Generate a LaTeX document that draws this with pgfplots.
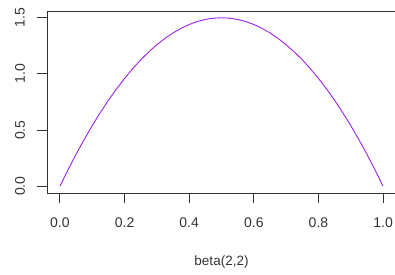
\documentclass[border=0pt]{standalone}
\usepackage{pgfplots}
\pgfplotsset{compat=1.18}
\usepackage{fontspec}
\setmainfont{Liberation Sans}
\definecolor{rpurple}{HTML}{A020F0}
\definecolor{axgray}{HTML}{333333}
\begin{document}
\begin{tikzpicture}[x=1pt,y=1pt]
\useasboundingbox (0,0) rectangle (395,274);
\begin{axis}[
  at={(47pt,81pt)}, anchor=south west,
  scale only axis, width=349pt, height=182pt,
  xmin=-0.04, xmax=1.04, ymin=-0.06, ymax=1.56,
  axis line style={axgray, line width=0.9pt},
  tick style={axgray, line width=0.9pt},
  tick align=outside, major tick length=10pt,
  xtick={0,0.2,0.4,0.6,0.8,1.0},
  ytick={0,0.5,1.0,1.5},
  xticklabels={0.0,0.2,0.4,0.6,0.8,1.0},
  yticklabels={0.0,0.5,1.0,1.5},
  xtick pos=bottom, ytick pos=left,
  ticklabel style={font=\fontsize{14}{14}\selectfont, text=axgray},
  xticklabel style={anchor=center, yshift=-20pt},
  yticklabel style={rotate=90, anchor=center, yshift=17pt},
  xlabel={beta(2,2)},
  xlabel style={font=\fontsize{13.5}{13.5}\selectfont, text=axgray, anchor=center, at={(axis description cs:0.5,0)}, yshift=-69pt},
  clip=false,
]
\addplot[rpurple, line width=0.9pt] coordinates {
(0,0) (0.025,0.14625) (0.05,0.285) (0.075,0.41625) (0.1,0.54) (0.125,0.65625)
(0.15,0.765) (0.175,0.86625) (0.2,0.96) (0.225,1.04625) (0.25,1.125) (0.275,1.19625)
(0.3,1.26) (0.325,1.31625) (0.35,1.365) (0.375,1.40625) (0.4,1.44) (0.425,1.46625)
(0.45,1.485) (0.475,1.49625) (0.5,1.5) (0.525,1.49625) (0.55,1.485) (0.575,1.46625)
(0.6,1.44) (0.625,1.40625) (0.65,1.365) (0.675,1.31625) (0.7,1.26) (0.725,1.19625)
(0.75,1.125) (0.775,1.04625) (0.8,0.96) (0.825,0.86625) (0.85,0.765) (0.875,0.65625)
(0.9,0.54) (0.925,0.41625) (0.95,0.285) (0.975,0.14625) (1,0)
};
\end{axis}
\end{tikzpicture}
\end{document}
